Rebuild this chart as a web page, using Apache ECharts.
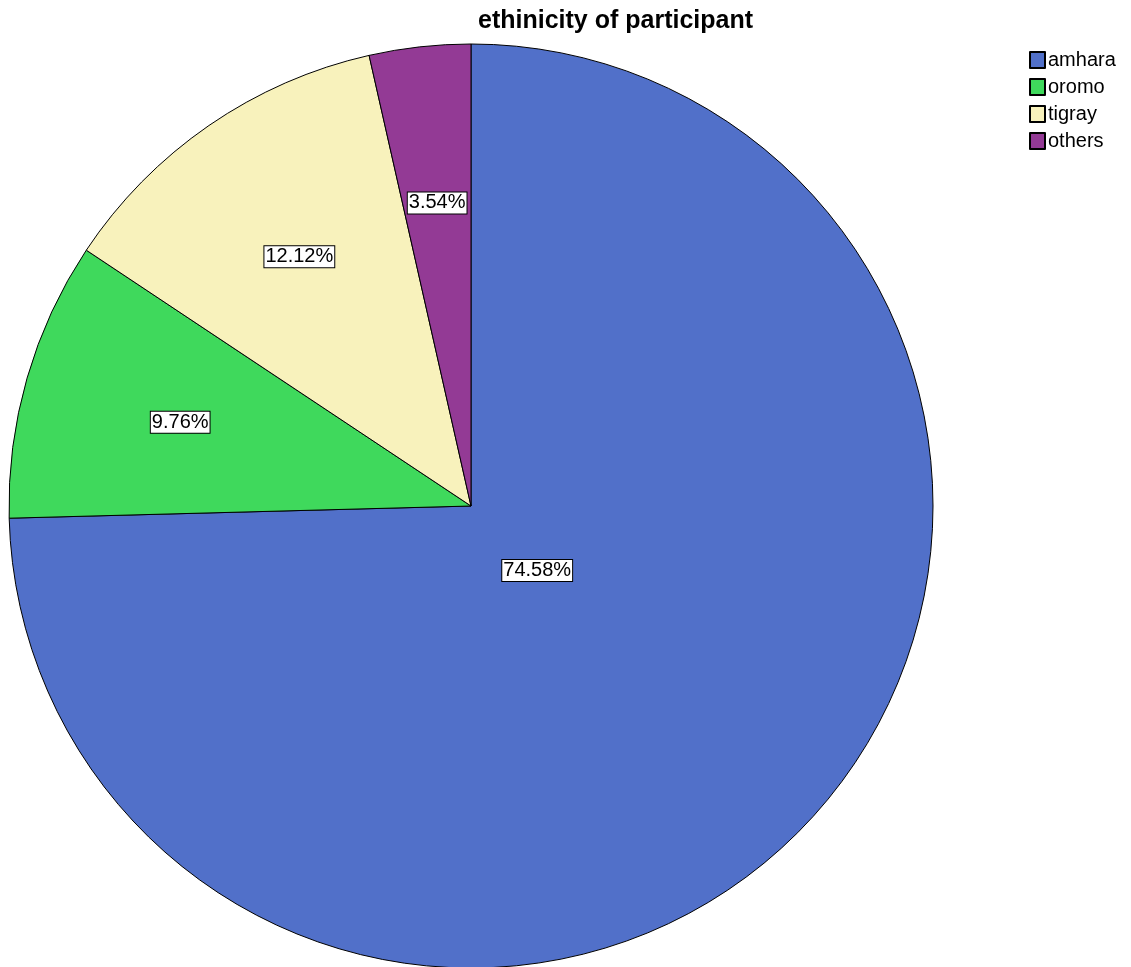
<!DOCTYPE html>
<html>
<head>
<meta charset="utf-8">
<script src="https://cdn.jsdelivr.net/npm/echarts@6/dist/echarts.min.js"></script>
<style>
html,body{margin:0;padding:0;background:#fff;}
#chart{width:1131px;height:967px;}
</style>
</head>
<body>
<div id="chart"></div>
<script>
const categories = ['amhara', 'oromo', 'tigray', 'others'];
const values = [74.58, 9.76, 12.12, 3.54];
const colors = ['#5170C9', '#3FD95C', '#F8F2BC', '#933A95'];
const labelRadiusFactor = [0.2, 0.655, 0.655, 0.66];

const cx = 471, cy = 506, R = 462;
const total = values.reduce((a, b) => a + b, 0);
const cum = [];
let acc = 0;
values.forEach(v => { cum.push(acc + v / 2); acc += v; });

const chart = echarts.init(document.getElementById('chart'));
chart.setOption({
  animation: false,
  backgroundColor: '#fff',
  title: {
    text: 'ethinicity of participant',
    left: 478, top: 9, padding: 0,
    textStyle: { fontFamily: 'Liberation Sans, Arial', fontWeight: 'bold', fontSize: 25, color: '#000' }
  },
  legend: {
    orient: 'vertical', left: 1029, top: 50, padding: 0,
    icon: 'rect', itemWidth: 15, itemHeight: 16, itemGap: 7,
    textStyle: { fontFamily: 'Liberation Sans, Arial', fontSize: 20, lineHeight: 20, color: '#000', padding: [0, 0, 0, -2] },
    data: categories
  },
  series: [{
    type: 'pie',
    center: [cx, cy],
    radius: R,
    startAngle: 90,
    clockwise: true,
    silent: true,
    itemStyle: { borderColor: '#000', borderWidth: 1 },
    label: {
      show: true, position: 'inside',
      formatter: p => p.value.toFixed(2) + '%',
      fontFamily: 'Liberation Sans, Arial', fontSize: 20, color: '#000',
      backgroundColor: '#fff', borderColor: '#000', borderWidth: 1,
      padding: [1, 1, 0, 1]
    },
    labelLine: { show: false },
    labelLayout: function (params) {
      const i = params.dataIndex;
      const ang = cum[i] / total * 2 * Math.PI;
      const r = R * labelRadiusFactor[i];
      return { x: cx + r * Math.sin(ang), y: cy - r * Math.cos(ang), align: 'center', verticalAlign: 'middle' };
    },
    data: categories.map((c, i) => ({ name: c, value: values[i], itemStyle: { color: colors[i] } }))
  }]
});
</script>
</body>
</html>
